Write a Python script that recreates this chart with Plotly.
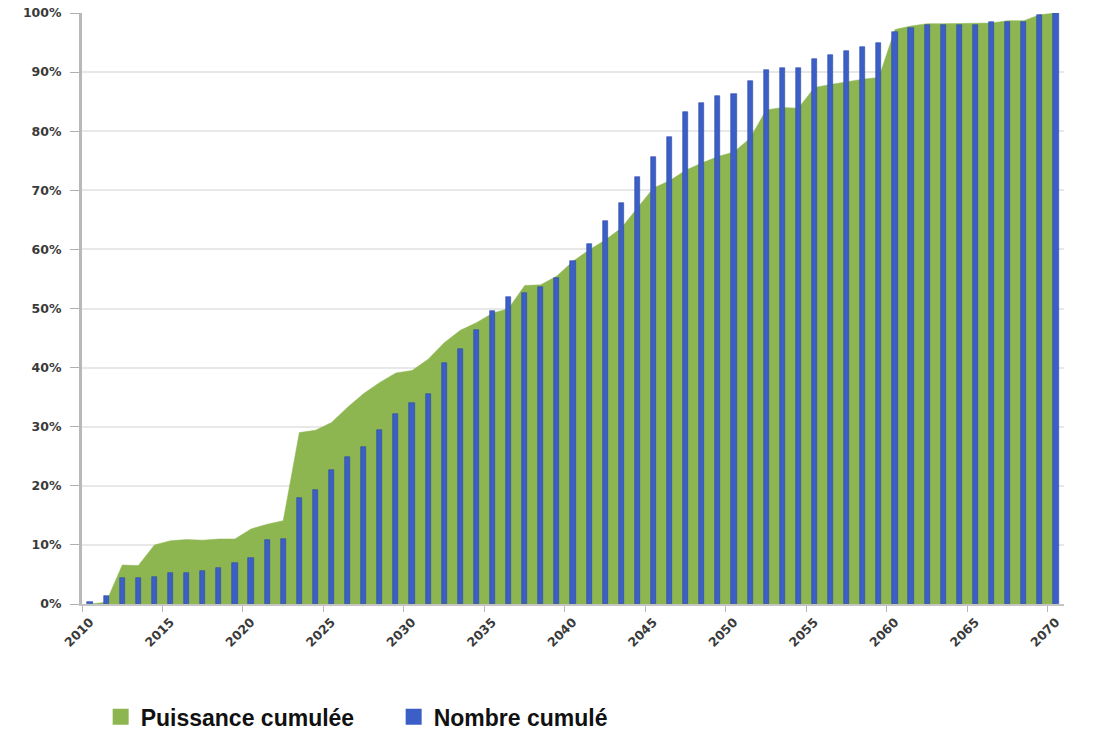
import plotly.graph_objects as go

years = list(range(2010, 2071))

# Puissance cumulée (%), green area
puissance = [0.0, 0.3, 6.6, 6.5, 10.0, 10.7, 10.9, 10.8, 11.0, 11.0,
             12.7, 13.5, 14.1, 29.0, 29.4, 30.7, 33.3, 35.6, 37.5, 39.1,
             39.5, 41.4, 44.2, 46.3, 47.6, 49.2, 50.0, 53.9, 54.0, 55.5,
             58.0, 59.9, 61.6, 63.6, 67.0, 70.4, 71.6, 73.4, 74.6, 75.7,
             76.5, 78.8, 83.6, 84.0, 83.9, 87.4, 87.9, 88.4, 88.8, 89.1,
             97.2, 97.8, 98.2, 98.2, 98.2, 98.2, 98.3, 98.7, 98.7, 99.7,
             100.0]

# Nombre cumulé (%), blue bars
nombre = [0.3, 1.3, 4.4, 4.4, 4.5, 5.2, 5.2, 5.6, 6.1, 6.9,
          7.8, 10.9, 11.0, 18.0, 19.3, 22.6, 24.9, 26.5, 29.5, 32.2,
          34.0, 35.5, 40.8, 43.2, 46.3, 49.6, 51.9, 52.7, 53.7, 55.2,
          58.1, 60.9, 64.8, 67.8, 72.2, 75.6, 79.0, 83.3, 84.8, 86.0,
          86.3, 88.5, 90.4, 90.7, 90.7, 92.3, 92.9, 93.6, 94.3, 95.0,
          96.8, 97.4, 97.9, 98.0, 98.0, 98.0, 98.5, 98.5, 98.5, 99.7,
          100.0]

x_tick_years = list(range(2010, 2071, 5))
x_tick_labels = [str(y) for y in x_tick_years]
y_tick_values = list(range(0, 101, 10))
y_tick_labels = [f"{v}%" for v in y_tick_values]

series_names = ["Puissance cumulée", "Nombre cumulé"]

GREEN = "#8db650"
BLUE = "#3b5fc7"
BLUE_EDGE = "#2b48a3"

fig = go.Figure()

fig.add_trace(go.Scatter(
    x=years, y=puissance, mode="lines", fill="tozeroy",
    line=dict(color=GREEN, width=0.5), fillcolor=GREEN,
    showlegend=False, hoverinfo="skip", yaxis="y"))

fig.add_trace(go.Bar(
    x=years, y=nombre, width=0.32,
    marker=dict(color=BLUE, line=dict(color=BLUE_EDGE, width=0.6)),
    showlegend=False, yaxis="y2"))

# legend entries
fig.add_trace(go.Scatter(
    x=[None], y=[None], mode="markers", name=series_names[0],
    marker=dict(symbol="square", size=16, color=GREEN)))
fig.add_trace(go.Scatter(
    x=[None], y=[None], mode="markers", name=series_names[1],
    marker=dict(symbol="square", size=16, color=BLUE)))

tick_font = dict(family="DejaVu Sans, Verdana, sans-serif", size=12.5,
                 color="#3a3a3a", weight="bold")

fig.update_layout(
    width=1110, height=750,
    margin=dict(l=82, r=46, t=13, b=146, autoexpand=False),
    paper_bgcolor="white", plot_bgcolor="white",
    bargap=0,
    xaxis=dict(
        range=[2009.5, 2070.5],
        tickmode="array", tickvals=x_tick_years, ticktext=x_tick_labels,
        tickangle=-45, tickfont=tick_font,
        ticks="", ticklabelstandoff=4,
        showline=True, linecolor="#c4c4c4", linewidth=2,
        showgrid=False, zeroline=False, automargin=False,
        minor=dict(ticks="outside", tick0=2009.5, dtick=5, ticklen=6,
                   tickcolor="#b8b8b8", tickwidth=1, showgrid=False),
    ),
    yaxis=dict(
        range=[0, 100], tickmode="array", tickvals=y_tick_values,
        ticktext=y_tick_labels, tickfont=tick_font,
        ticks="outside", ticklen=9, tickcolor="#b0b0b0", tickwidth=1,
        ticklabelstandoff=6, automargin=False,
        showline=True, linecolor="#b8b8b8", linewidth=3,
        showgrid=True, gridcolor="#e8e8e8", gridwidth=1.5,
        zeroline=False,
    ),
    yaxis2=dict(
        range=[0, 100], overlaying="y", side="left",
        showgrid=False, showticklabels=False, ticks="", showline=False,
        zeroline=False,
    ),
    legend=dict(
        orientation="h", x=0.019, xanchor="left", y=-0.191, yanchor="middle",
        font=dict(family="Liberation Sans, Arial, sans-serif",
                  size=23, color="#111111", weight="bold"),
        itemsizing="trace", entrywidth=248, bgcolor="rgba(0,0,0,0)",
    ),
    showlegend=True,
)

fig.write_html("out.html",
               config={"displayModeBar": False},
               post_script="document.body.style.margin='0';")
